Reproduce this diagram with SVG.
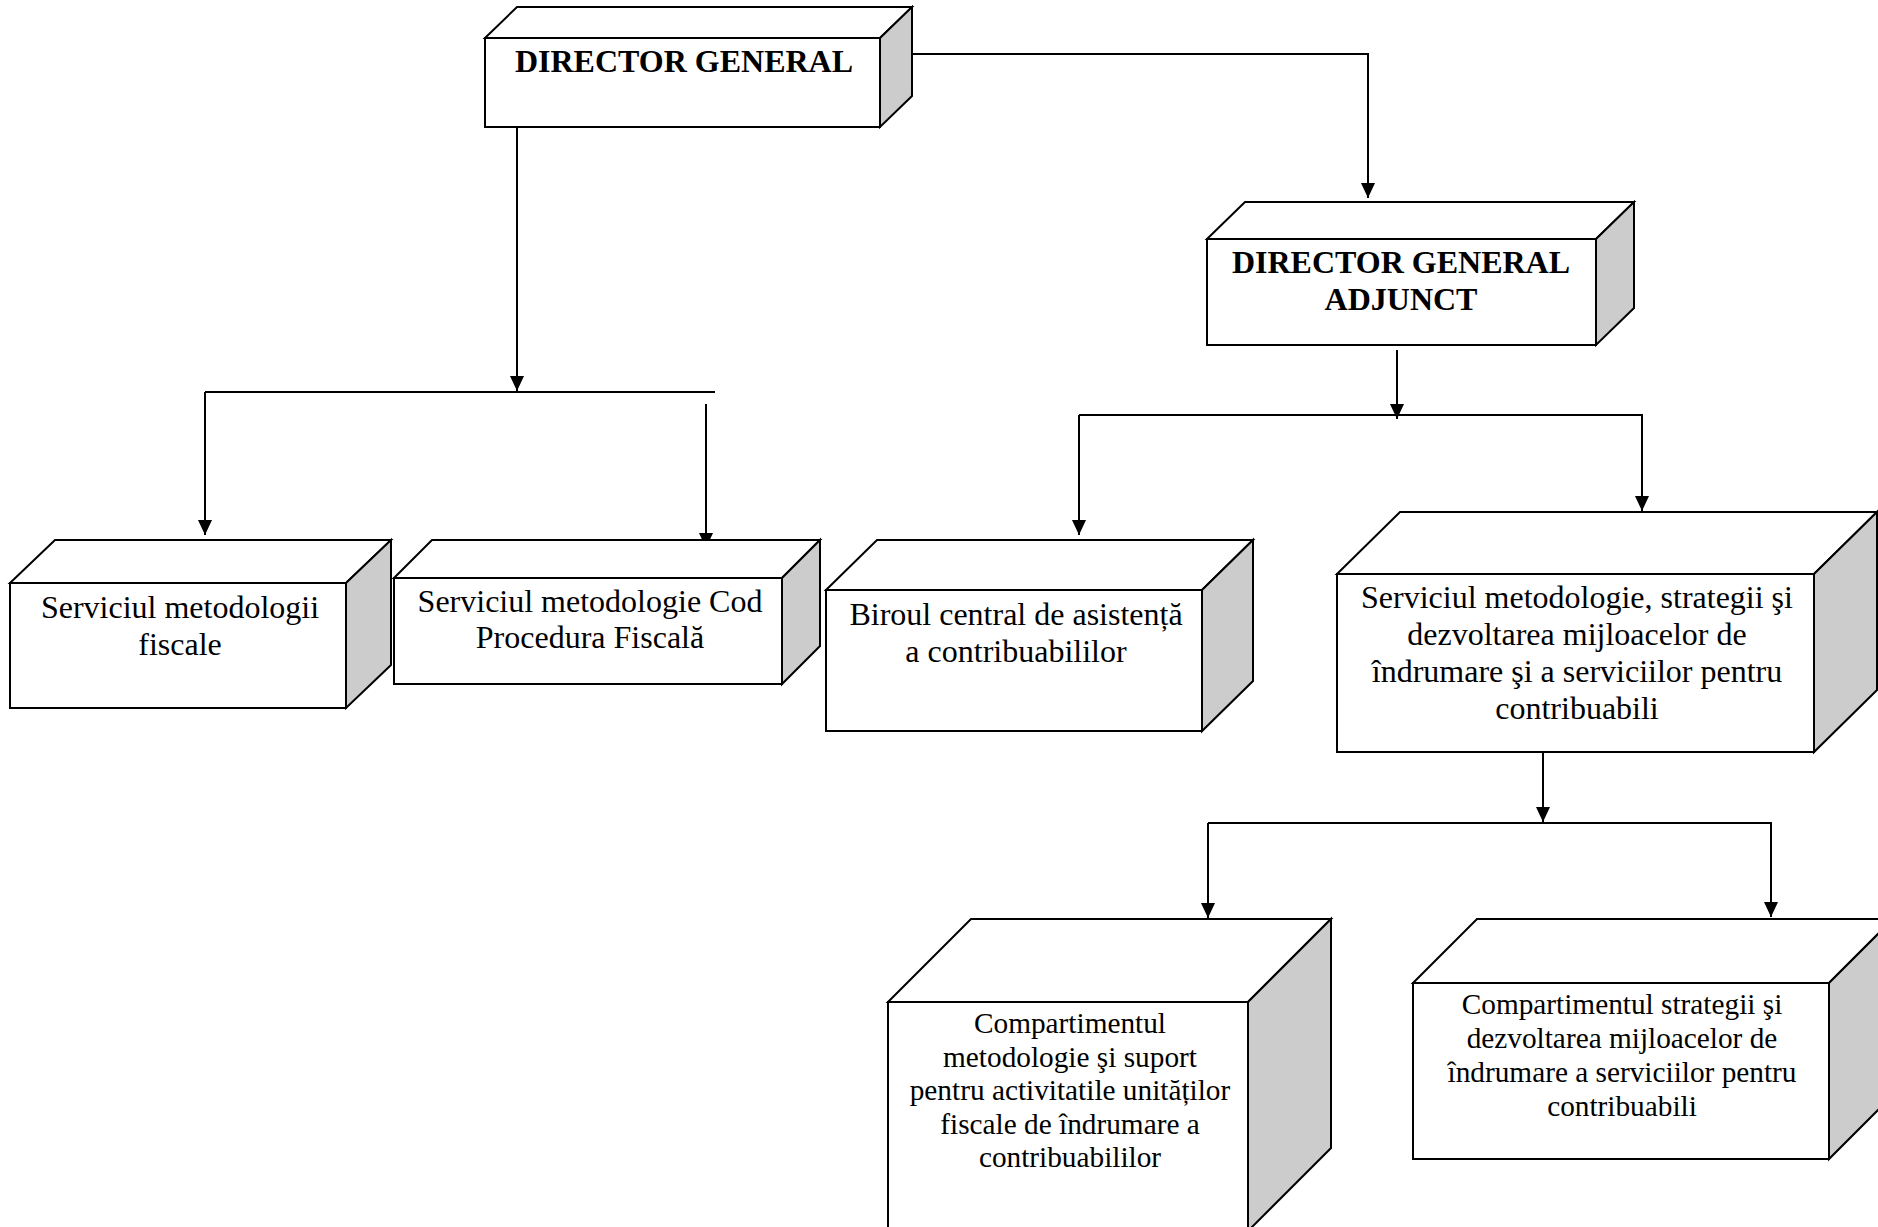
<svg xmlns="http://www.w3.org/2000/svg" width="1878" height="1227" viewBox="0 0 1878 1227">
  <style>
    .face { fill: #ffffff; stroke: #000000; stroke-width: 2; stroke-linejoin: miter; }
    .side { fill: #cccccc; stroke: #000000; stroke-width: 2; stroke-linejoin: miter; }
    .wire { fill: none; stroke: #000000; stroke-width: 2; }
    .lbl { font-family: "Liberation Serif", "Times New Roman", serif; font-size: 32px; fill: #000000; text-anchor: middle; }
    .lbl-b { font-family: "Liberation Serif", "Times New Roman", serif; font-size: 32px; font-weight: bold; fill: #000000; text-anchor: middle; }
    .lbl-s { font-family: "Liberation Serif", "Times New Roman", serif; font-size: 29.3px; fill: #000000; text-anchor: middle; }
  </style>
  <defs>
    <marker id="arrow" viewBox="0 0 15 14" refX="15" refY="7" markerWidth="15" markerHeight="14" markerUnits="userSpaceOnUse" orient="auto">
      <path d="M0,0 L15,7 L0,14 z" fill="#000000"/>
    </marker>
  </defs>
  <rect width="1878" height="1227" fill="#ffffff"/>

  <!-- connectors -->
  <g id="connectors">
    <polyline class="wire" points="912,54 1368,54 1368,198" marker-end="url(#arrow)"/>
    <line class="wire" x1="517" y1="127" x2="517" y2="391" marker-end="url(#arrow)"/>
    <line class="wire" x1="205" y1="392" x2="715" y2="392"/>
    <line class="wire" x1="205" y1="392" x2="205" y2="535" marker-end="url(#arrow)"/>
    <line class="wire" x1="706" y1="404" x2="706" y2="548" marker-end="url(#arrow)"/>
    <line class="wire" x1="1397" y1="350" x2="1397" y2="419" marker-end="url(#arrow)"/>
    <polyline class="wire" points="1079,415 1642,415 1642,511" marker-end="url(#arrow)"/>
    <line class="wire" x1="1079" y1="415" x2="1079" y2="535" marker-end="url(#arrow)"/>
    <line class="wire" x1="1543" y1="752" x2="1543" y2="822" marker-end="url(#arrow)"/>
    <polyline class="wire" points="1208,823 1771,823 1771,917" marker-end="url(#arrow)"/>
    <line class="wire" x1="1208" y1="823" x2="1208" y2="918" marker-end="url(#arrow)"/>
  </g>

  <!-- DIRECTOR GENERAL -->
  <g id="director-general">
    <polygon class="face" points="485,38 517,7 912,7 880,38"/>
    <polygon class="side" points="880,38 912,7 912,96 880,127"/>
    <rect class="face" x="485" y="38" width="395" height="89"/>
    <text class="lbl-b" x="684" y="72">DIRECTOR GENERAL</text>
  </g>

  <!-- DIRECTOR GENERAL ADJUNCT -->
  <g id="director-general-adjunct">
    <polygon class="face" points="1207,239 1245,202 1634,202 1596,239"/>
    <polygon class="side" points="1596,239 1634,202 1634,308 1596,345"/>
    <rect class="face" x="1207" y="239" width="389" height="106"/>
    <text class="lbl-b" x="1401" y="273">DIRECTOR GENERAL</text>
    <text class="lbl-b" x="1401" y="310">ADJUNCT</text>
  </g>

  <!-- Serviciul metodologii fiscale -->
  <g id="serviciul-metodologii-fiscale">
    <polygon class="face" points="10,583 55,540 391,540 346,583"/>
    <polygon class="side" points="346,583 391,540 391,665 346,708"/>
    <rect class="face" x="10" y="583" width="336" height="125"/>
    <text class="lbl" x="180" y="618">Serviciul metodologii</text>
    <text class="lbl" x="180" y="655">fiscale</text>
  </g>

  <!-- Serviciul metodologie Cod Procedura Fiscala -->
  <g id="serviciul-cod-procedura">
    <polygon class="face" points="394,578 432,540 820,540 782,578"/>
    <polygon class="side" points="782,578 820,540 820,646 782,684"/>
    <rect class="face" x="394" y="578" width="388" height="106"/>
    <text class="lbl" x="590" y="612">Serviciul metodologie Cod</text>
    <text class="lbl" x="590" y="648">Procedura Fiscală</text>
  </g>

  <!-- Biroul central de asistenta -->
  <g id="biroul-central">
    <polygon class="face" points="826,590 877,540 1253,540 1202,590"/>
    <polygon class="side" points="1202,590 1253,540 1253,681 1202,731"/>
    <rect class="face" x="826" y="590" width="376" height="141"/>
    <text class="lbl" x="1016" y="625">Biroul central de asistență</text>
    <text class="lbl" x="1016" y="662">a contribuabililor</text>
  </g>

  <!-- Serviciul metodologie, strategii -->
  <g id="serviciul-metodologie-strategii">
    <polygon class="face" points="1337,574 1400,512 1877,512 1814,574"/>
    <polygon class="side" points="1814,574 1877,512 1877,690 1814,752"/>
    <rect class="face" x="1337" y="574" width="477" height="178"/>
    <text class="lbl" x="1577" y="608">Serviciul metodologie, strategii şi</text>
    <text class="lbl" x="1577" y="645">dezvoltarea mijloacelor de</text>
    <text class="lbl" x="1577" y="682">îndrumare şi a serviciilor pentru</text>
    <text class="lbl" x="1577" y="719">contribuabili</text>
  </g>

  <!-- Compartimentul metodologie si suport -->
  <g id="compartimentul-metodologie">
    <polygon class="face" points="888,1002 971,919 1331,919 1248,1002"/>
    <polygon class="side" points="1248,1002 1331,919 1331,1148 1248,1231"/>
    <rect class="face" x="888" y="1002" width="360" height="229"/>
    <text class="lbl-s" x="1070" y="1033">Compartimentul</text>
    <text class="lbl-s" x="1070" y="1067">metodologie şi suport</text>
    <text class="lbl-s" x="1070" y="1100">pentru activitatile unităților</text>
    <text class="lbl-s" x="1070" y="1134">fiscale de îndrumare a</text>
    <text class="lbl-s" x="1070" y="1167">contribuabililor</text>
  </g>

  <!-- Compartimentul strategii -->
  <g id="compartimentul-strategii">
    <polygon class="face" points="1413,983 1477,919 1893,919 1829,983"/>
    <polygon class="side" points="1829,983 1893,919 1893,1095 1829,1159"/>
    <rect class="face" x="1413" y="983" width="416" height="176"/>
    <text class="lbl-s" x="1622" y="1014">Compartimentul strategii şi</text>
    <text class="lbl-s" x="1622" y="1048">dezvoltarea mijloacelor de</text>
    <text class="lbl-s" x="1622" y="1082">îndrumare a serviciilor pentru</text>
    <text class="lbl-s" x="1622" y="1116">contribuabili</text>
  </g>
</svg>
